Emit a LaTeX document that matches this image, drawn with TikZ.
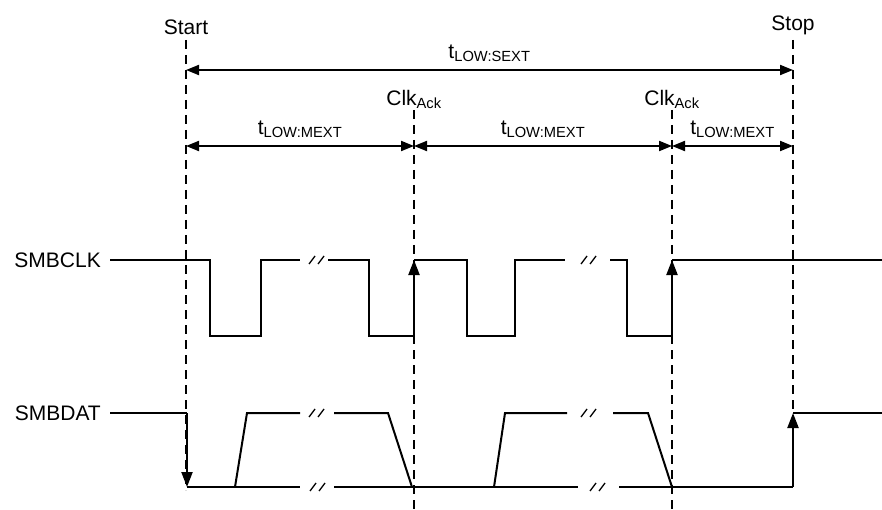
\documentclass[tikz,border=0pt]{standalone}
\usepackage{fontspec}
\setmainfont{Liberation Sans}
\usetikzlibrary{positioning,calc,arrows.meta}
\tikzset{
  wave/.style={line width=2pt},
  guide/.style={dashed, dash pattern=on 9pt off 6pt, line width=1.3pt},
  dim/.style={line width=2pt, {Triangle[length=13pt,width=10pt]}-{Triangle[length=13pt,width=10pt]}},
  edge/.style={line width=2.2pt, -{Triangle[length=15pt,width=11pt]}},
  lbl/.style={font=\fontsize{21}{21}\selectfont, inner sep=1pt}
}
\newcommand{\brkmark}[1]{\draw[line width=1.3pt] ($(#1)+(-8,4)$) -- ($(#1)+(-2,-4)$) ($(#1)+(1,4)$) -- ($(#1)+(7,-4)$);}
\begin{document}
\begin{tikzpicture}[x=1pt,y=-1pt]
	\useasboundingbox (0,0) rectangle (882,510);

	% guide lines
	\coordinate (start) at (186,40);
	\coordinate (ack1)  at (414,110);
	\coordinate (ack2)  at (672,110);
	\coordinate (stop)  at (793,40);
	\draw[guide] (start) -- (186,490);
	\draw[guide] (ack1) -- (414,510);
	\draw[guide] (ack2) -- (672,510);
	\draw[guide] (stop) -- (793,412);

	\node[lbl, above=4pt of start] (lstart) {Start};
	\node[lbl, above=4pt of stop]  (lstop)  {Stop};
	\node[lbl, above=0pt of ack1]  (lack1)  {Clk\textsubscript{Ack}};
	\node[lbl, above=0pt of ack2]  (lack2)  {Clk\textsubscript{Ack}};

	% timing dimensions
	\coordinate (sa) at (186,70);  \coordinate (sb) at (793,70);
	\draw[dim] (sa) -- (sb) node[lbl, midway, above=6pt] {t\textsubscript{LOW:SEXT}};
	\coordinate (m0) at (186,146); \coordinate (m1) at (414,146);
	\coordinate (m2) at (672,146); \coordinate (m3) at (793,146);
	\draw[dim] (m0) -- (m1) node[lbl, midway, above=6pt] {t\textsubscript{LOW:MEXT}};
	\draw[dim] (m1) -- (m2) node[lbl, midway, above=6pt] {t\textsubscript{LOW:MEXT}};
	\draw[dim] (m2) -- (m3) node[lbl, midway, above=6pt] {t\textsubscript{LOW:MEXT}};

	% SMBCLK
	\node[lbl, anchor=east] (clk) at (102,260) {SMBCLK};
	\draw[wave] ([xshift=8pt]clk.east) -- (210,260) -- (210,336) -- (261,336) -- (261,260) -- (300,260);
	\brkmark{317,260}
	\draw[wave] (328,260) -- (369,260) -- (369,336) -- (414,336);
	\draw[edge] (414,336) -- (414,260);
	\draw[wave] (414,260) -- (467,260) -- (467,336) -- (515,336) -- (515,260) -- (565,260);
	\brkmark{589,260}
	\draw[wave] (610,260) -- (627,260) -- (627,336) -- (672,336);
	\draw[edge] (672,336) -- (672,260);
	\draw[wave] (672,260) -- (882,260);

	% SMBDAT
	\node[lbl, anchor=east] (dat) at (102,413) {SMBDAT};
	\draw[wave] ([xshift=8pt]dat.east) -- (187,413);
	\draw[edge] (187,413) -- (187,487);
	\draw[wave] (187,487) -- (300,487);
	\brkmark{318,487}
	\draw[wave] (235,487) -- (247,413) -- (300,413);
	\brkmark{317,413}
	\draw[wave] (334,413) -- (388,413) -- (412,487);
	\draw[wave] (334,487) -- (578,487);
	\brkmark{598,487}
	\draw[wave] (494,487) -- (505,413) -- (567,413);
	\brkmark{589,413}
	\draw[wave] (613,413) -- (648,413) -- (672,487);
	\draw[wave] (619,487) -- (793,487);
	\draw[edge] (793,487) -- (793,413);
	\draw[wave] (793,413) -- (882,413);
\end{tikzpicture}
\end{document}
